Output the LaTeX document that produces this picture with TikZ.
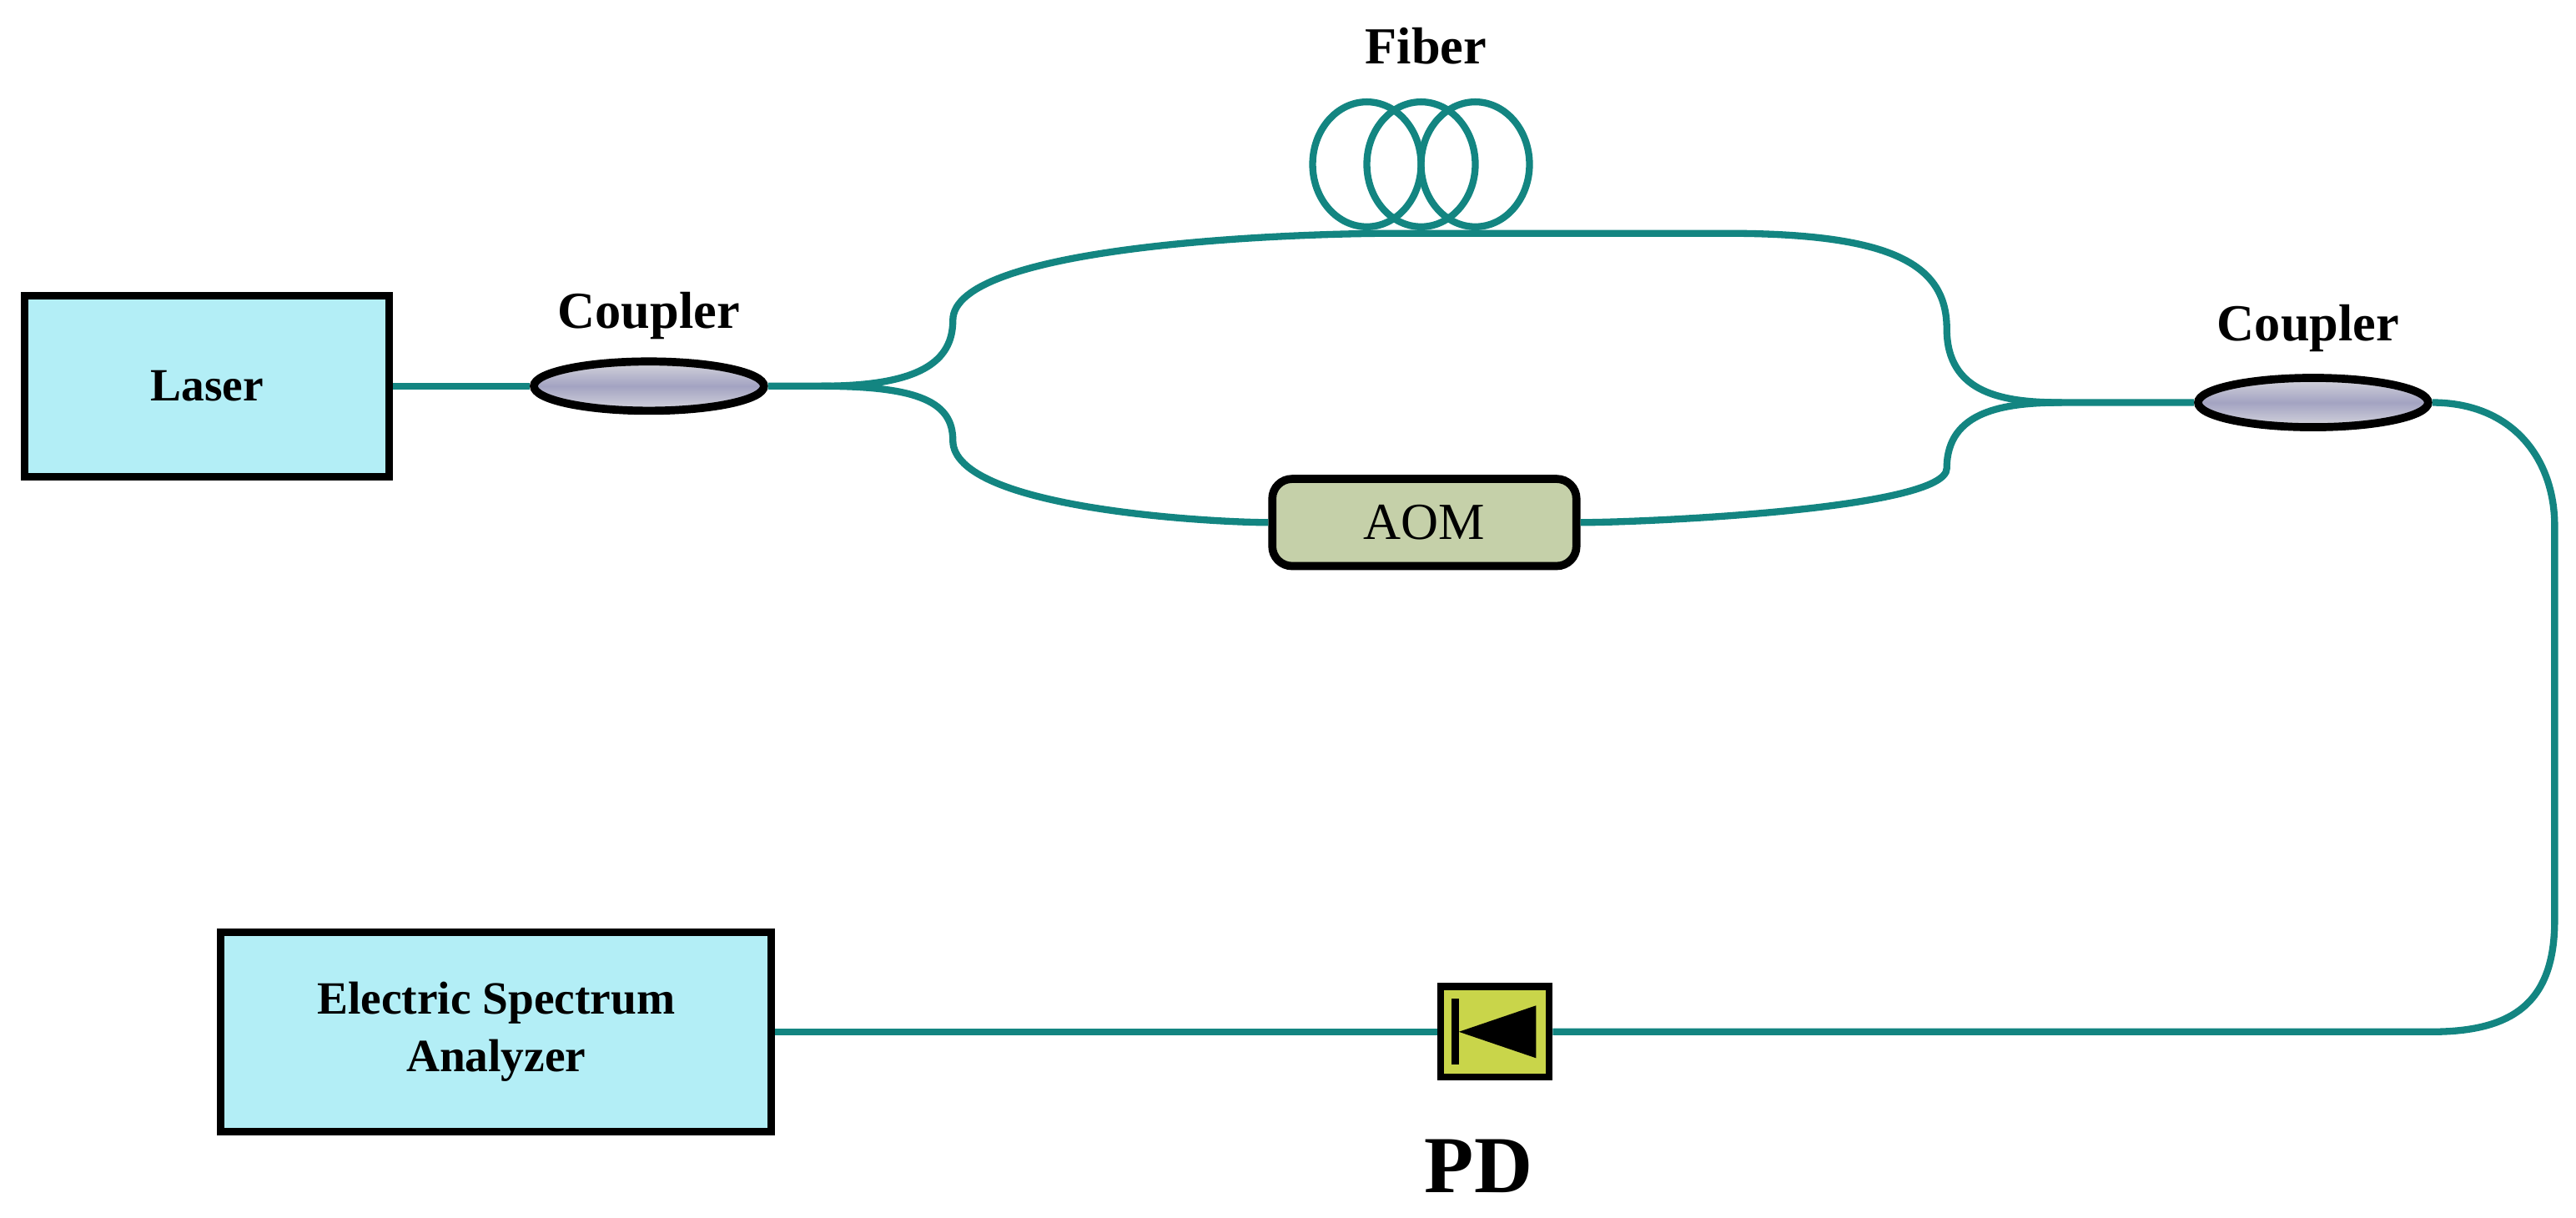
\documentclass[tikz,border=0pt]{standalone}
\usepackage{fontspec}
\setmainfont{Liberation Serif}
\usetikzlibrary{shapes.geometric}
\definecolor{fib}{HTML}{138581}
\definecolor{boxc}{HTML}{B3EEF6}
\definecolor{aomc}{HTML}{C5D0A9}
\definecolor{pdc}{HTML}{C9D54A}
\begin{document}
\begin{tikzpicture}[x=0.01cm,y=-0.01cm,
  fiber/.style={draw=fib,line width=1.2pt},
  box/.style={draw=black,line width=1.3pt,fill=boxc,inner sep=0pt,font=\bfseries\fontsize{8}{10}\selectfont,align=center},
  coupler/.style={ellipse,draw=black,line width=1.4pt,minimum width=1.4cm,minimum height=0.3cm,inner sep=0pt,top color=blue!10!gray!30,bottom color=blue!10!gray!30,middle color=blue!20!gray!60},
  lbl/.style={font=\bfseries\fontsize{9}{11}\selectfont}]
\useasboundingbox (0,0) rectangle (1568,741);
% nodes
\node[box,minimum width=2.22cm,minimum height=1.1cm] (laser) at (126,235) {Laser};
\node[box,minimum width=3.35cm,minimum height=1.21cm] (esa) at (302,628) {Electric Spectrum\\Analyzer};
\node[coupler] (c1) at (395,235) {};
\node[coupler] (c2) at (1408,245) {};
\node[lbl] (c1l) at (395,192) {Coupler};
\node[lbl] (c2l) at (1405,200) {Coupler};
\node[lbl] (fl) at (868,28) {Fiber};
\node[draw=black,line width=1.4pt,fill=aomc,rounded corners=0.12cm,minimum width=1.85cm,minimum height=0.53cm,font=\fontsize{9}{11}\selectfont] (aom) at (867,318) {AOM};
\node[draw=black,line width=1.2pt,fill=pdc,minimum width=0.66cm,minimum height=0.55cm,inner sep=0pt] (pd) at (910,628) {};
\node[font=\bfseries\fontsize{14}{16}\selectfont] (pdl) at (900,710) {PD};
\coordinate (top1) at (850,142);
\coordinate (top2) at (1050,142);
\coordinate (join) at (1255,245);
\coordinate (split) at (500,235);
% diode
\fill[black] (935,612) -- (935,644) -- (888,628) -- cycle;
\draw[black,line width=1.3pt] (886,608) -- (886,648);
% connectors
\draw[fiber] (laser.east) -- (c1.west);
\draw[fiber] (c1.east) -- (split) .. controls (560,235) and (580,220) .. (580,195)
  .. controls (580,150) and (780,142) .. (top1) -- (top2)
  .. controls (1150,142) and (1185,160) .. (1185,200)
  .. controls (1185,240) and (1220,245) .. (join) -- (c2.west);
\draw[fiber] (split) .. controls (560,235) and (580,245) .. (580,268)
  .. controls (580,310) and (740,318) .. (aom.west);
\draw[fiber] (aom.east) .. controls (1000,318) and (1185,310) .. (1185,285)
  .. controls (1185,250) and (1220,245) .. (join);
\draw[fiber] (c2.east) .. controls (1530,245) and (1555,280) .. (1555,320)
  -- (1555,560) .. controls (1555,610) and (1530,628) .. (1480,628) -- (pd.east);
\draw[fiber] (pd.west) -- (esa.east);
% fiber loops
\foreach \cx in {832,865,898}
  \draw[fiber] (\cx,100) ellipse [x radius=33, y radius=38];
\end{tikzpicture}
\end{document}
